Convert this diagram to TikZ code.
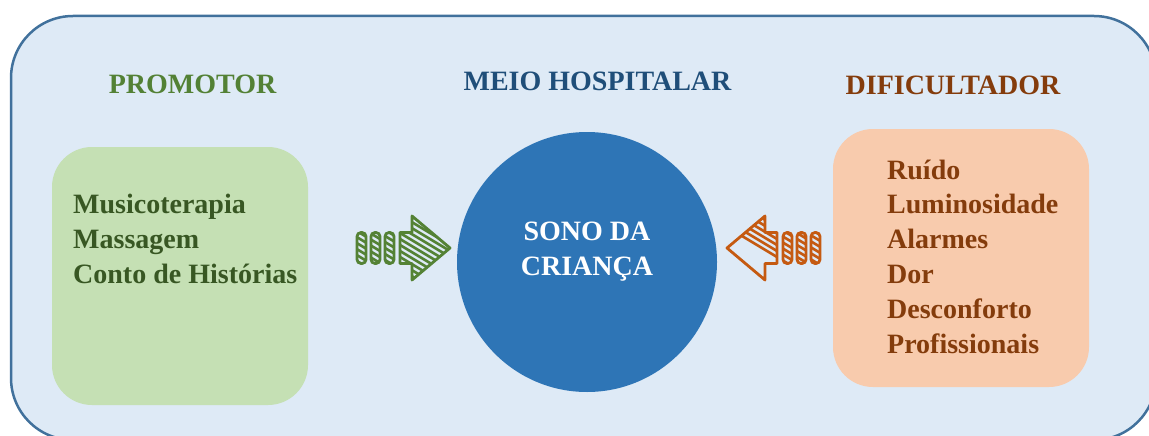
\documentclass[tikz,border=0pt]{standalone}
\usepackage{fontspec}
\setmainfont{Liberation Serif}
\definecolor{bgblue}{HTML}{DEEAF6}
\definecolor{bordblue}{HTML}{41719C}
\definecolor{boxgreen}{HTML}{C5E0B4}
\definecolor{boxorange}{HTML}{F8CBAD}
\definecolor{circblue}{HTML}{2E75B6}
\definecolor{titgreen}{HTML}{538135}
\definecolor{txtgreen}{HTML}{385723}
\definecolor{titblue}{HTML}{1F4E79}
\definecolor{txtbrown}{HTML}{843C0C}
\definecolor{arrgreen}{HTML}{548235}
\definecolor{arrorange}{HTML}{C55A11}
\newcommand\stripedarrow[3]{%
\begin{scope}[shift={(#1,248)}, xscale=#3]
  \begin{scope}
    \clip (-50,-15.5) -- (-38,-15.5) -- (-38,-32) -- (0,0) -- (-38,32) -- (-38,15.5) -- (-50,15.5) -- cycle
          [rounded corners=3pt] (-93,-15.5) rectangle (-84,15.5)
          (-79,-15.5) rectangle (-70,15.5)
          (-65,-15.5) rectangle (-56,15.5);
    \foreach \a in {-220,-210,...,40} {
      \draw[#2, line width=2.6pt] (\a,-45) -- ++(#3*150,90);
    }
  \end{scope}
  \draw[#2, line width=2.8pt, line join=round]
    (-50,-15.5) -- (-38,-15.5) -- (-38,-32) -- (0,0) -- (-38,32) -- (-38,15.5) -- (-50,15.5) -- cycle;
  \draw[#2, line width=2.8pt, rounded corners=4pt]
    (-93,-15.5) rectangle (-84,15.5)
    (-79,-15.5) rectangle (-70,15.5)
    (-65,-15.5) rectangle (-56,15.5);
\end{scope}}
\tikzset{
  title/.style={font=\fontsize{28}{34}\selectfont\bfseries, anchor=base},
  listtext/.style={font=\fontsize{28}{34.8}\selectfont\bfseries, align=left, anchor=base west, inner sep=0pt},
}
\begin{document}
\begin{tikzpicture}[x=1pt,y=-1pt]
\useasboundingbox (0,0) rectangle (1149,436);
\draw[fill=bgblue, draw=bordblue, line width=2.5pt, rounded corners=62pt] (11,16) rectangle (1156,440);
\fill[boxgreen, rounded corners=40pt] (52,147) rectangle (308,405);
\fill[boxorange, rounded corners=40pt] (833,129) rectangle (1089,387);
\fill[circblue] (587,262) circle[radius=130];
\node[title, text=titgreen] (promotor) at (192.5,93) {PROMOTOR};
\node[title, text=titblue] (meio) at (597.5,91) {MEIO HOSPITALAR};
\node[title, text=txtbrown] (dific) at (953,95) {DIFICULTADOR};
\node[listtext, text=txtgreen] (prom) at (73,283) {Musicoterapia\\Massagem\\Conto de Histórias};
\node[listtext, text=txtbrown] (dif) at (887,353) {Ruído\\Luminosidade\\Alarmes\\Dor\\Desconforto\\Profissionais};
\node[font=\fontsize{28}{35}\selectfont\bfseries, text=white, align=center, anchor=base, inner sep=0pt] (sono) at (587,275) {SONO DA\\CRIANÇA};
\stripedarrow{450}{arrgreen}{1}
\stripedarrow{727}{arrorange}{-1}
\end{tikzpicture}
\end{document}
